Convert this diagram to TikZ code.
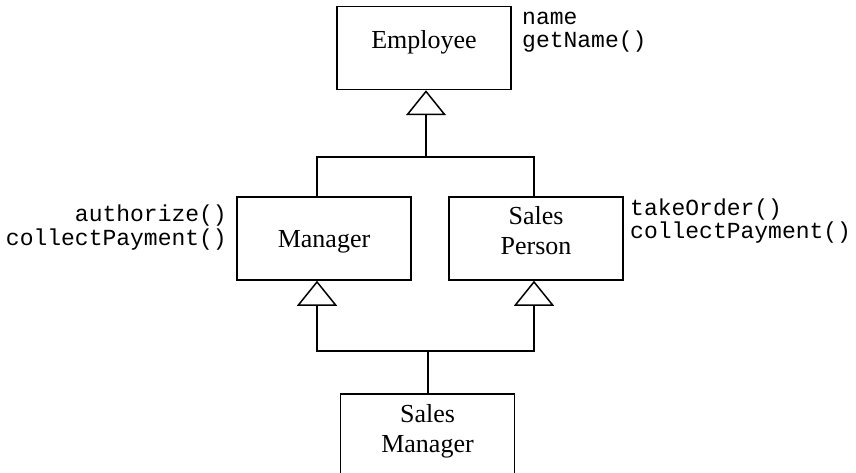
\documentclass[tikz,border=0pt]{standalone}
\usepackage{fontspec}
\setmainfont{Liberation Serif}
\newfontfamily\codefont{Liberation Mono}
\usetikzlibrary{arrows.meta,calc}
\newcommand\clstext[3]{\raisebox{0pt}[#1][#2]{\begin{tabular}[t]{@{}c@{}}#3\end{tabular}}}
\tikzset{
  cls/.style={draw, line width=1.5pt, minimum width=174pt, minimum height=83pt, inner sep=0pt,
    font=\fontsize{26}{30}\selectfont},
  conn/.style={line width=1.5pt},
  inh/.style={line width=1.5pt, -{Triangle[open, width=40pt, length=25pt, line width=1.5pt]}},
  code/.style={font=\codefont\fontsize{23}{23}\selectfont, inner sep=0pt},
}
\begin{document}
\begin{tikzpicture}[x=1pt, y=-1pt]
\useasboundingbox (0,0) rectangle (856,473);
\clip (0,0) rectangle (856,473);
% classes
\node[cls] (emp) at (424,48) {\clstext{12pt}{10pt}{Employee}};
\node[cls] (mgr) at (324,238.5) {\clstext{20pt}{3pt}{Manager}};
\node[cls] (sp) at (536,238.5) {\clstext{11pt}{40pt}{Sales\\Person}};
\node[cls] (sm) at (427.5,435.5) {\clstext{12pt}{39pt}{Sales\\Manager}};
% junctions
\coordinate (j1) at (426,157);
\coordinate (mx) at (317,0);
\coordinate (spx) at (534,0);
\coordinate (j2) at (428,351);
% Employee generalisation
\draw[inh] (j1) -- (emp.south -| j1);
\draw[conn] (mgr.north -| mx) |- (j1) -| (sp.north -| spx);
% Sales Manager generalisation
\draw[conn] (sm.north -| j2) -- (j2);
\draw[inh] (j2) -| (mgr.south -| mx);
\draw[inh] (j2) -| (sp.south -| spx);
% labels
\node[code, anchor=base west] (l1) at (522,25) {name};
\node[code, anchor=base west] (l2) at (522,48) {getName()};
\node[code, anchor=base east] (l3) at (227,222) {authorize()};
\node[code, anchor=base east] (l4) at (227,245) {collectPayment()};
\node[code, anchor=base west] (l5) at (630,215) {takeOrder()};
\node[code, anchor=base west] (l6) at (630,238) {collectPayment()};
\end{tikzpicture}
\end{document}
